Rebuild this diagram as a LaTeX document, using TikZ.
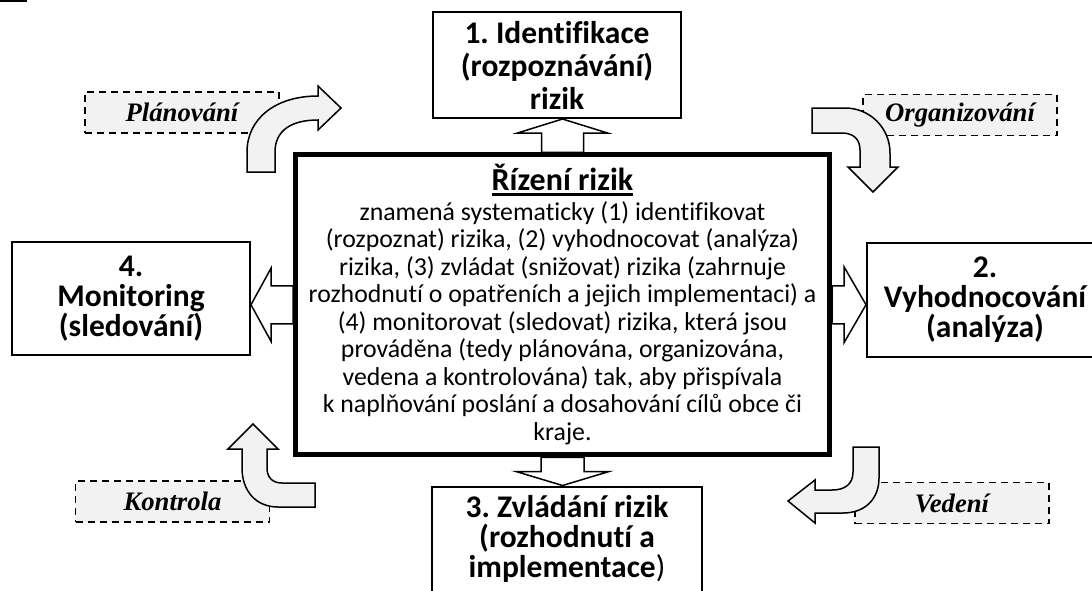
\documentclass[tikz,border=0pt]{standalone}
\usepackage{fontspec}
\setmainfont{Carlito}[Ligatures=NoCommon]
\newfontfamily\tnr{Liberation Serif}
\usetikzlibrary{calc}
\definecolor{lightgr}{RGB}{242,242,242}
\frenchspacing
\newcommand{\thickul}[1]{\vtop{\hbox{#1}\kern2pt\hrule height 2.5pt}}
% block arrows: #1 base, #2 tip, #3 half shaft, #4 half head, #5 head length
\def\VArr#1#2#3#4#5{\draw[barrow] ([shift={(-#3,0)}]#1) -- ([shift={(-#3,#5)}]#2) -- ([shift={(-#4,#5)}]#2) -- (#2) -- ([shift={(#4,#5)}]#2) -- ([shift={(#3,#5)}]#2) -- ([shift={(#3,0)}]#1) -- cycle;}
\def\HArr#1#2#3#4#5{\draw[barrow] ([shift={(0,-#3)}]#1) -- ([shift={(#5,-#3)}]#2) -- ([shift={(#5,-#4)}]#2) -- (#2) -- ([shift={(#5,#4)}]#2) -- ([shift={(#5,#3)}]#2) -- ([shift={(0,#3)}]#1) -- cycle;}

\begin{document}
\begin{tikzpicture}[x=1pt,y=-1pt,
  box/.style={draw,line width=2pt,fill=white,align=center,inner sep=0pt,font=\fontsize{31.5}{30}\selectfont\bfseries},
  tag/.style={draw,dash pattern=on 7pt off 5pt,line width=1.5pt,fill=lightgr,minimum width=194pt,minimum height=41pt,inner sep=0pt,font=\tnr\fontsize{26.7}{26.7}\selectfont\bfseries\itshape},
  barrow/.style={draw,fill=white,line width=1.5pt,line join=miter},
  bent/.style={draw,fill=lightgr,line width=1.5pt,line join=miter}]
\useasboundingbox (0,0) rectangle (1092,590);
\clip (0,0) rectangle (1092,590);
\draw[line width=1.5pt] (0,0.75) -- (27,0.75);
\node[tag] (plan) at (182,112.5) {Plánování};
\node[tag] (org) at (960,115) {Organizování};
\node[tag] (kontr) at (172.5,501.5) {Kontrola};
\node[tag] (ved) at (952,503) {Vedení};
% bent arrows
\draw[bent] (247,172) -- (247,152) .. controls (247,119) and (275,96) .. (318,96) -- (318,86) -- (341,108) -- (318,130) -- (318,120) .. controls (292,120) and (275,130) .. (275,152) -- (275,172) -- cycle;
\draw[bent] (812,108) -- (845,108) .. controls (870,108) and (890,128) .. (890,153) -- (890,167) -- (898,167) -- (873,192) -- (848,167) -- (860,167) -- (860,150) .. controls (860,139) and (853,133) .. (842,133) -- (812,133) -- cycle;
\draw[bent] (315,483) -- (282,483) .. controls (273,483) and (267,478) .. (267,468) -- (267,449) -- (278,449) -- (253,424) -- (228,449) -- (242,449) -- (242,468) .. controls (242,491) and (256,507) .. (278,507) -- (315,507) -- cycle;
\draw[bent] (853,447) -- (879,447) -- (879,478) .. controls (879,499) and (865,513) .. (843,513) -- (815,513) -- (815,523) -- (788,501) -- (815,480) -- (815,490) -- (832,490) .. controls (845,490) and (853,484) .. (853,472) -- cycle;
% boxes
\node[draw,line width=5pt,fill=white,minimum width=534pt,minimum height=300pt,align=center,inner sep=0pt,font=\fontsize{25.8}{27.5}\selectfont] (ctr) at (562.5,304.75)
  {{\fontsize{32}{32}\selectfont\bfseries\thickul{Řízení rizik}}\\[2pt]
   znamená systematicky (1) identifikovat\\
   (rozpoznat) rizika, (2) vyhodnocovat (analýza)\\
   rizika, (3) zvládat (snižovat) rizika (zahrnuje\\
   rozhodnutí o opatřeních a jejich implementaci) a\\
   (4) monitorovat (sledovat) rizika, která jsou\\
   prováděna (tedy plánována, organizována,\\
   vedena a kontrolována) tak, aby přispívala\\
   k naplňování poslání a dosahování cílů obce či\\
   kraje.};
\node[box,minimum width=248pt,minimum height=106pt,font=\fontsize{31.5}{33}\selectfont\bfseries] (ident) at (557,65) {1. Identifikace\\(rozpoznávání)\\rizik};
\node[box,minimum width=238pt,minimum height=113pt] (mon) at (131,298.5) {4.\\Monitoring\\(sledování)};
\node[box,minimum width=236pt,minimum height=114pt] (vyh) at (985,300) {2.\\Vyhodnocování\\(analýza)};
\node[box,minimum width=270pt,minimum height=129pt] (zvl) at (567,551) {3. Zvládání rizik\\(rozhodnutí a\\implementace{\mdseries)}\\\mbox{}};
% block arrows
\coordinate (t1) at (ctr.north|-ident.south);
\VArr{ctr.north}{t1}{21}{45}{14}
\coordinate (t3) at (ctr.south|-zvl.north);
\VArr{ctr.south}{t3}{21.5}{46.5}{-14}
\coordinate (t4) at (mon.east|-ctr.west);
\HArr{ctr.west}{t4}{19}{36.5}{20}
\coordinate (t2) at (vyh.west|-ctr.east);
\HArr{ctr.east}{t2}{19}{38}{-22}
\end{tikzpicture}
\end{document}
